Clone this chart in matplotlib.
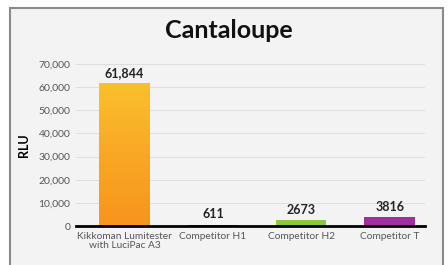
import numpy as np
import matplotlib.pyplot as plt
from matplotlib.patches import Rectangle
from matplotlib.colors import LinearSegmentedColormap

# === DONNÉES ===
categories = ["Kikkoman Lumitester\nwith LuciPac A3", "Competitor H1", "Competitor H2", "Competitor T"]
valeurs = [61844, 611, 2673, 3816]
etiquettes = ["61,844", "611", "2673", "3816"]
couleurs = ["#f7941d", "#8b1a1a", "#8dc63f", "#a22ea0"]
yticks = [0, 10000, 20000, 30000, 40000, 50000, 60000, 70000]

plt.rcParams['font.family'] = ['Lato', 'DejaVu Sans']

fig = plt.figure(figsize=(4.48, 2.65), dpi=100)
fig.patch.set_facecolor("white")

# cadre gris du panneau
cadre = Rectangle((10 / 448, -0.05), 433 / 448, 1 - 8 / 265 + 0.05, transform=fig.transFigure,
                  facecolor="#f3f3f3", edgecolor="#8a8a8a", linewidth=1.5, zorder=-1)
fig.patches.append(cadre)

ax = fig.add_axes([76 / 448, 1 - 226 / 265, 349 / 448, 162 / 265])
ax.set_facecolor("none")

x = np.arange(len(categories))
barres = ax.bar(x, valeurs, width=0.57, color=couleurs, zorder=3)

# dégradé jaune -> orange sur la première barre
b0 = barres[0]
b0.set_facecolor("none")
grad = np.linspace(1, 0, 256).reshape(-1, 1)
cmap = LinearSegmentedColormap.from_list("orange", ["#f7941d", "#f9a825", "#fbc02d"])
im = ax.imshow(grad, cmap=cmap, aspect="auto", zorder=3,
               extent=(b0.get_x(), b0.get_x() + b0.get_width(), 0, valeurs[0]))
im.set_clip_path(b0)

for xi, v, lab in zip(x, valeurs, etiquettes):
    ax.text(xi, v + 1800, lab, ha="center", va="bottom", fontsize=9, fontweight="bold", color="#222222")

ax.set_xlim(-0.55, 3.4)
ax.set_ylim(0, 70000)
ax.set_yticks(yticks)
ax.set_yticklabels([f"{t:,}" for t in yticks], fontsize=7.5, color="#555555")
ax.set_xticks(x)
ax.set_xticklabels(categories, fontsize=7.3, color="#555555", linespacing=1.1)
ax.tick_params(length=0, pad=4)
ax.grid(axis="y", color="#dcdcdc", linewidth=0.6, zorder=0)
for s in ["top", "right", "left"]:
    ax.spines[s].set_visible(False)
ax.spines["bottom"].set_linewidth(2)
ax.spines["bottom"].set_color("black")
ax.spines["bottom"].set_zorder(4)

ax.set_ylabel("RLU", fontsize=9, fontweight="bold", labelpad=6)
fig.text(0.5 + 5 / 448, 1 - 30 / 265, "Cantaloupe", ha="center", va="center",
         fontsize=18, fontweight="bold", color="#111111")

fig.savefig("out.png", dpi=100)
